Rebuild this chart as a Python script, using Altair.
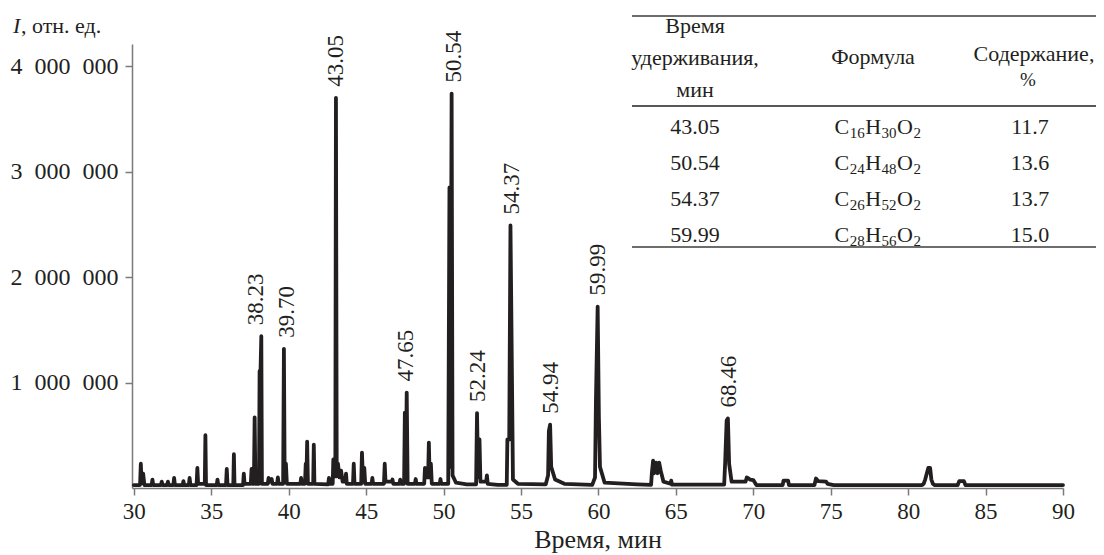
import altair as alt
import pandas as pd

# ---------------- data ----------------
# chromatogram trace: retention time (min) and intensity (thousands of rel. units)
time_min = [
    30.0, 30.4, 30.45, 30.5, 30.6, 30.68,
    31.15, 31.2, 31.25, 31.75, 31.8, 31.85,
    32.15, 32.2, 32.25, 32.55, 32.6, 32.65,
    33.15, 33.2, 33.25, 33.55, 33.6, 33.65,
    34.05, 34.1, 34.15, 34.58, 34.62, 34.66,
    35.35, 35.4, 35.45, 35.95, 36.0, 36.05,
    36.42, 36.46, 36.5, 37.05, 37.1, 37.15,
    37.55, 37.6, 37.65, 37.75, 37.8, 37.85,
    38.08, 38.12, 38.18, 38.23, 38.27,
    38.65, 38.7, 38.78, 38.9, 38.95,
    39.25, 39.3, 39.35,
    39.64, 39.69, 39.74, 39.82, 39.88,
    40.75, 40.8, 40.85,
    41.05, 41.1, 41.14, 41.19, 41.24,
    41.58, 41.62, 41.66,
    42.55, 42.6, 42.65,
    42.84, 42.88, 42.95, 43.01, 43.05, 43.1, 43.18, 43.28, 43.38, 43.48, 43.65, 43.7, 43.75,
    44.15, 44.2, 44.25,
    44.68, 44.73, 44.8, 44.88, 44.94,
    45.35, 45.4, 45.45,
    46.15, 46.2, 46.25, 46.65, 46.7, 46.75,
    47.15, 47.2, 47.25,
    47.45, 47.5, 47.57, 47.62, 47.68,
    48.15, 48.2, 48.25,
    48.75, 48.8, 48.86, 49.0, 49.05, 49.1, 49.18, 49.24,
    49.75, 49.8, 49.85,
    50.3, 50.38, 50.44, 50.52, 50.58, 50.8, 51.5,
    52.1, 52.16, 52.23, 52.32, 52.38, 52.75, 52.8, 52.85, 53.5,
    54.08, 54.12, 54.24, 54.32, 54.42, 54.48, 54.8,
    56.6, 56.75, 56.8, 56.88, 56.95, 57.2, 57.8,
    59.6, 59.78, 59.84, 59.95, 60.03, 60.1, 60.4, 62.5,
    63.4, 63.45, 63.53, 63.6, 63.72, 63.82, 63.92, 64.03, 64.2,
    64.65, 64.7, 64.75,
    68.12, 68.18, 68.28, 68.36, 68.44, 68.6,
    69.5, 69.58, 69.8, 70.0, 70.2,
    71.9, 71.95, 72.25, 72.3,
    73.95, 74.05, 74.2, 74.7, 74.8, 75.2,
    80.9, 81.0, 81.1, 81.3, 81.42, 81.5, 81.6, 81.7,
    83.2, 83.3, 83.6, 83.7,
    90.0,
]
intensity_k = [
    28, 28, 230, 45, 136, 28,
    28, 80, 28, 28, 60, 28,
    28, 60, 28, 28, 95, 28,
    28, 65, 28, 28, 95, 28,
    28, 190, 40, 40, 500, 28,
    28, 80, 28, 28, 180, 28,
    28, 320, 28, 28, 136, 40,
    40, 180, 40, 40, 670, 40,
    40, 1110, 1110, 1440, 40,
    40, 95, 60, 85, 40,
    40, 100, 40,
    40, 1320, 60, 230, 40,
    40, 95, 40,
    40, 230, 60, 440, 40,
    40, 410, 40,
    35, 95, 40,
    40, 270, 110, 110, 3700, 110, 230, 100, 165, 60, 60, 136, 40,
    40, 230, 40,
    40, 335, 60, 190, 40,
    40, 95, 40,
    40, 230, 60, 60, 80, 40,
    40, 80, 40,
    40, 715, 200, 905, 40,
    40, 85, 40,
    40, 190, 100, 100, 430, 100, 230, 40,
    40, 85, 40,
    40, 2850, 200, 3740, 120, 50, 35,
    35, 710, 100, 460, 60, 60, 120, 40, 30,
    30, 460, 460, 2490, 990, 80, 40,
    35, 120, 540, 600, 200, 80, 40,
    30, 100, 840, 1720, 670, 200, 50, 35,
    30, 140, 260, 140, 240, 140, 240, 160, 60,
    40, 70, 32,
    32, 230, 640, 660, 230, 60,
    60, 100, 80, 75, 28,
    28, 70, 70, 28,
    28, 90, 65, 60, 40, 28,
    28, 40, 80, 190, 190, 80, 40, 28,
    28, 65, 65, 28,
    28,
]
assert len(time_min) == len(intensity_k)

# peak annotations
label_text = ["38.23", "39.70", "43.05", "47.65", "50.54", "52.24", "54.37", "54.94", "59.99", "68.46"]
label_time = [37.86, 39.86, 43.08, 47.56, 50.68, 52.23, 54.42, 56.93, 60.0, 68.4]
label_peak_k = [1440, 1320, 3700, 905, 3740, 710, 2490, 600, 1720, 660]

# table
header_col1 = ["Время", "удерживания,", "мин"]
header_col2 = ["Формула"]
header_col3 = ["Содержание,", "%"]
table_rt = ["43.05", "50.54", "54.37", "59.99"]
table_formula = ["C16H30O2", "C24H48O2", "C26H52O2", "C28H56O2"]
table_content = ["11.7", "13.6", "13.7", "15.0"]

x_ticks = [30, 35, 40, 45, 50, 55, 60, 65, 70, 75, 80, 85, 90]
y_ticks = [1000000, 2000000, 3000000, 4000000]

# ---------------- chart ----------------
FONT = "Liberation Serif"
INK = "#231f20"
W, H = 931, 444
FS_TICK = 23     # x tick labels, peak labels
FS_YTICK = 24    # y tick labels
FS_TAB = 22      # table
FS_XT = 26       # x-axis title
FS_YT = 22       # y-axis title (top-left)

trace = pd.DataFrame({
    "t": time_min,
    "I": [v * 1000 for v in intensity_k],
    "o": list(range(len(time_min))),
})
labels = pd.DataFrame({
    "text": label_text,
    "t": label_time,
    "I": [v * 1000 for v in label_peak_k],
})

xs = alt.Scale(domain=[29.88, 90], nice=False, zero=False)
ys = alt.Scale(domain=[0, 4210000], nice=False)

line = alt.Chart(trace).mark_line(
    color=INK, strokeWidth=3.8, strokeJoin="round", strokeCap="round"
).encode(
    x=alt.X("t:Q", scale=xs, axis=alt.Axis(values=x_ticks, title="Время, мин", format="d")),
    y=alt.Y("I:Q", scale=ys, axis=alt.Axis(
        values=y_ticks, title=None,
        labelExpr="datum.value/1000000 + '\u2002000\u2002000'")),
    order="o:Q",
)

peak_labels = alt.Chart(labels).mark_text(
    angle=270, align="left", baseline="middle", dx=11,
    font=FONT, fontSize=FS_TICK, color=INK
).encode(x="t:Q", y="I:Q", text="text:N")

one = pd.DataFrame({"a": [0]})


def txt(s, px, py, size=FS_TAB, align="center", baseline="middle", style="normal"):
    return alt.Chart(pd.DataFrame({"s": [s]})).mark_text(
        align=align, baseline=baseline, font=FONT, fontSize=size,
        fontStyle=style, color=INK
    ).encode(x=alt.value(px), y=alt.value(py), text="s:N")


def hrule(py, x1, x2, color, width):
    return alt.Chart(one).mark_rule(color=color, strokeWidth=width).encode(
        x=alt.value(x1), x2=alt.value(x2), y=alt.value(py))


# approximate advance widths (em) of Liberation Serif for formula layout
EM = {"C": 0.667, "H": 0.722, "O": 0.722}
F_MAIN, F_SUB = 22, 15


def formula_layers(formula, cx, cy):
    pieces = []
    i = 0
    while i < len(formula):
        if formula[i].isdigit():
            j = i
            while j < len(formula) and formula[j].isdigit():
                j += 1
            pieces.append((formula[i:j], True))
            i = j
        else:
            pieces.append((formula[i], False))
            i += 1
    widths = [len(p) * 0.5 * F_SUB + 0.5 if sub else EM.get(p, 0.7) * F_MAIN + 0.5
              for p, sub in pieces]
    x = cx - sum(widths) / 2
    out = []
    for (p, sub), w in zip(pieces, widths):
        if sub:
            out.append(txt(p, x, cy + 11, size=F_SUB, align="left", baseline="alphabetic"))
        else:
            out.append(txt(p, x, cy + 7, size=F_MAIN, align="left", baseline="alphabetic"))
        x += w
    return out


layers = [line, peak_labels]

# y-axis title at top-left
layers.append(txt("I", -119, -11, size=FS_YT, align="left", baseline="alphabetic", style="italic"))
layers.append(txt(", отн. ед.", -111, -11, size=FS_YT, align="left", baseline="alphabetic"))

# table
TX1, TX2, TX3 = 563, 746, 898
TL, TR = 500, 964
layers.append(hrule(-28, TL, TR, "#6d6d6d", 2))
layers.append(hrule(62, TL, TR, "#231f20", 1.5))
layers.append(hrule(203, TL, TR, "#6d6d6d", 2))
for i, s in enumerate(header_col1):
    layers.append(txt(s, TX1, -18 + i * 32))
for s in header_col2:
    layers.append(txt(s, TX2 - 5, 13))
layers.append(txt(header_col3[0], TX3 + 4, 10))
layers.append(txt(header_col3[1], TX3 - 2, 36, size=19))
for i in range(len(table_rt)):
    yy = 83 + i * 36
    layers.append(txt(table_rt[i], TX1, yy))
    layers.extend(formula_layers(table_formula[i], TX2, yy))
    layers.append(txt(table_content[i], TX3, yy))

chart = alt.layer(*layers).properties(
    width=W, height=H,
    autosize=alt.AutoSizeParams(type="none"),
    padding={"left": 124, "top": 36, "right": 33, "bottom": 67},
).configure_view(stroke=None).configure_axis(
    grid=False,
    domainColor="#7a7a7a", domainWidth=1.5,
    tickColor="#7a7a7a", tickWidth=1.5, tickSize=7,
    labelFont=FONT, labelFontSize=FS_TICK, labelColor=INK,
    titleFont=FONT, titleFontSize=FS_XT, titleFontWeight="normal", titleColor=INK,
).configure_axisX(labelPadding=5, titlePadding=3, labelFlush=False, labelOverlap=False
).configure_axisY(labelPadding=7, labelFontSize=FS_YTICK)

chart.save("out.html", embed_options={"renderer": "svg", "actions": False})
